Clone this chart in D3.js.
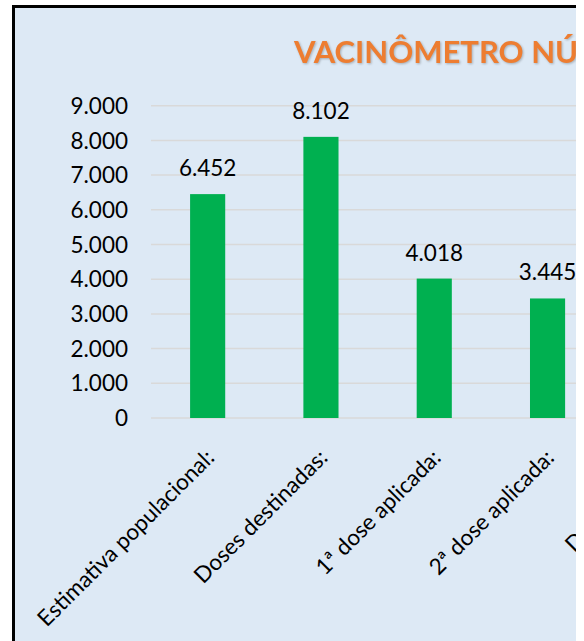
<!DOCTYPE html>
<meta charset="utf-8">
<title>Vacinômetro</title>
<style>
body { margin: 0; background: #fff; }
svg { display: block; font-family: Lato, "Open Sans", sans-serif; }
.grid line { stroke: #d9d9d9; stroke-width: 1.5; }
.tick-label, .value-label, .cat-label { fill: #000; font-size: 22.5px; }
.title { fill: #ed7d31; font-size: 31px; font-weight: bold; }
</style>
<svg width="576" height="641"></svg>
<script src="https://d3js.org/d3.v7.min.js"></script>
<script>
const categories = ["Estimativa populacional:", "Doses destinadas:", "1ª dose aplicada:", "2ª dose aplicada:", "Dose reforço:"];
const values = [6452, 8102, 4018, 3445, 1200];
const yTicks = [0, 1000, 2000, 3000, 4000, 5000, 6000, 7000, 8000, 9000];
const title = "VACINÔMETRO NÚMEROS";

const ptBR = d3.formatLocale({decimal: ",", thousands: ".", grouping: [3], currency: ["R$", ""]});
const fmt = ptBR.format(",d");

const svg = d3.select("svg");

// chart background + border (left and top only, right side is cropped)
svg.append("rect").attr("x", 13).attr("y", 6).attr("width", 600).attr("height", 700)
  .attr("fill", "#dde9f5");
svg.append("path").attr("d", "M13.5,700V6.5H600")
  .attr("fill", "none").attr("stroke", "#000").attr("stroke-width", 3);

const step = 113.3;
const x = d3.scaleBand().domain(categories)
  .range([151, 151 + step * categories.length])
  .paddingInner(0.69).paddingOuter(0.345);
const y = d3.scaleLinear().domain([0, 9000]).range([418, 105.7]);

svg.append("g").attr("class", "grid")
  .selectAll("line").data(yTicks).enter().append("line")
  .attr("x1", 151).attr("x2", 600)
  .attr("y1", d => y(d)).attr("y2", d => y(d));

svg.append("g").selectAll("text").data(yTicks).enter().append("text")
  .attr("class", "tick-label")
  .attr("x", 128).attr("y", d => y(d)).attr("dy", "0.36em")
  .attr("text-anchor", "end")
  .text(d => fmt(d));

svg.append("g").selectAll("rect").data(values).enter().append("rect")
  .attr("x", (d, i) => x(categories[i]))
  .attr("width", x.bandwidth())
  .attr("y", d => y(d))
  .attr("height", d => y(0) - y(d))
  .attr("fill", "#00b050");

svg.append("g").selectAll("text").data(values).enter().append("text")
  .attr("class", "value-label")
  .attr("x", (d, i) => x(categories[i]) + x.bandwidth() / 2)
  .attr("y", d => y(d) - 18)
  .attr("text-anchor", "middle")
  .text(d => fmt(d));

svg.append("g").selectAll("text").data(categories).enter().append("text")
  .attr("class", "cat-label")
  .attr("text-anchor", "end")
  .attr("transform", d => `translate(${x(d) + x.bandwidth() / 2 + 8},${459}) rotate(-45)`)
  .text(d => d);

svg.append("text").attr("class", "title")
  .attr("x", 294).attr("y", 63)
  .style("filter", "drop-shadow(1px 1px 1px rgba(0,0,0,0.25))")
  .text(title);
</script>
